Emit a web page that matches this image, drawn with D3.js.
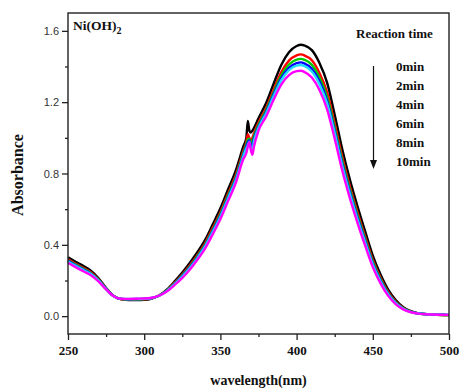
<!DOCTYPE html>
<html>
<head>
<meta charset="utf-8">
<script src="https://cdn.jsdelivr.net/npm/d3@7"></script>
<style>
  html, body { margin: 0; padding: 0; background: #fff; }
  svg { display: block; }
</style>
</head>
<body>
<div id="chart"></div>
<script>
// UV-vis spectra of Ni(OH)2 over reaction time
var wavelengths = [250, 255, 260, 265, 270, 275, 280, 285, 290, 295, 300, 305, 310, 315, 320, 325, 330, 335, 340, 345,
  350, 355, 360, 365, 367, 368, 369, 370, 371, 372, 375, 380, 385, 390, 395, 400, 403, 405, 410, 415,
  420, 425, 430, 435, 440, 445, 450, 455, 460, 465, 470, 475, 480, 490, 500];

var abs0 = [0.330, 0.305, 0.282, 0.255, 0.213, 0.158, 0.113, 0.094, 0.091, 0.091, 0.092, 0.099, 0.117, 0.150, 0.195, 0.245, 0.300, 0.360, 0.428, 0.515,
  0.605, 0.710, 0.815, 0.950, 1.000, 1.095, 1.040, 1.030, 1.040, 1.055, 1.110, 1.195, 1.305, 1.410, 1.480, 1.515, 1.522, 1.518, 1.492, 1.420,
  1.310, 1.130, 0.935, 0.765, 0.615, 0.475, 0.340, 0.235, 0.150, 0.090, 0.050, 0.028, 0.016, 0.009, 0.006];
var abs2 = [0.319, 0.294, 0.271, 0.246, 0.206, 0.155, 0.113, 0.095, 0.093, 0.094, 0.095, 0.100, 0.117, 0.146, 0.188, 0.234, 0.286, 0.344, 0.410, 0.495,
  0.583, 0.686, 0.789, 0.924, 0.975, 1.020, 1.000, 0.985, 1.000, 1.025, 1.085, 1.167, 1.272, 1.369, 1.433, 1.463, 1.468, 1.463, 1.435, 1.364,
  1.255, 1.080, 0.891, 0.726, 0.581, 0.445, 0.316, 0.217, 0.137, 0.082, 0.046, 0.026, 0.015, 0.009, 0.006];
var abs4 = [0.314, 0.289, 0.266, 0.241, 0.203, 0.154, 0.113, 0.096, 0.094, 0.095, 0.096, 0.101, 0.116, 0.145, 0.184, 0.229, 0.279, 0.337, 0.402, 0.485,
  0.573, 0.675, 0.777, 0.912, 0.962, 0.990, 0.995, 0.965, 0.980, 1.010, 1.072, 1.155, 1.256, 1.351, 1.411, 1.439, 1.443, 1.438, 1.409, 1.338,
  1.229, 1.057, 0.870, 0.708, 0.565, 0.432, 0.305, 0.208, 0.131, 0.078, 0.044, 0.025, 0.015, 0.009, 0.006];
var abs6 = [0.310, 0.285, 0.262, 0.238, 0.201, 0.153, 0.112, 0.097, 0.095, 0.096, 0.097, 0.102, 0.116, 0.143, 0.181, 0.225, 0.274, 0.331, 0.395, 0.478,
  0.564, 0.666, 0.767, 0.902, 0.950, 0.975, 0.985, 0.950, 0.960, 0.995, 1.062, 1.144, 1.244, 1.335, 1.393, 1.419, 1.423, 1.417, 1.387, 1.317,
  1.208, 1.038, 0.853, 0.694, 0.552, 0.421, 0.296, 0.201, 0.126, 0.075, 0.042, 0.024, 0.015, 0.009, 0.007];
var abs8 = [0.307, 0.282, 0.259, 0.236, 0.199, 0.152, 0.112, 0.097, 0.096, 0.096, 0.097, 0.102, 0.116, 0.142, 0.179, 0.222, 0.270, 0.327, 0.391, 0.472,
  0.558, 0.659, 0.760, 0.895, 0.940, 0.960, 0.978, 0.940, 0.935, 0.980, 1.055, 1.137, 1.235, 1.324, 1.380, 1.405, 1.408, 1.403, 1.372, 1.301,
  1.193, 1.025, 0.841, 0.683, 0.542, 0.413, 0.289, 0.196, 0.123, 0.073, 0.041, 0.023, 0.015, 0.009, 0.007];
var abs10 = [0.300, 0.275, 0.252, 0.230, 0.195, 0.150, 0.112, 0.098, 0.097, 0.098, 0.099, 0.103, 0.116, 0.140, 0.175, 0.215, 0.262, 0.318, 0.380, 0.460,
  0.545, 0.645, 0.745, 0.880, 0.915, 0.950, 0.975, 0.930, 0.905, 0.950, 1.040, 1.120, 1.215, 1.300, 1.352, 1.374, 1.376, 1.370, 1.338, 1.268,
  1.160, 0.995, 0.815, 0.660, 0.522, 0.395, 0.275, 0.185, 0.115, 0.068, 0.038, 0.022, 0.014, 0.009, 0.007];

var seriesNames = ["0min", "2min", "4min", "6min", "8min", "10min"];
var seriesValues = [abs0, abs2, abs4, abs6, abs8, abs10];
var seriesColors = ["#000000", "#ff0000", "#00cc00", "#0000ff", "#22dcff", "#ff00ff"];

var xTicks = [250, 300, 350, 400, 450, 500];
var xMinor = [275, 325, 375, 425, 475];
var yTicks = [0.0, 0.4, 0.8, 1.2, 1.6];
var yMinor = [0.2, 0.6, 1.0, 1.4];

(function () {
  "use strict";
  var W = 461, H = 392, m = { t: 13, r: 12, b: 58, l: 68 };
  var iw = W - m.l - m.r, ih = H - m.t - m.b;
  var SERIF = "'Liberation Serif', 'Times New Roman', serif";
  var SANS = "'Liberation Sans', Arial, sans-serif";

  var x = d3.scaleLinear().domain([250, 500]).range([0, iw]);
  var y = d3.scaleLinear().domain([-0.1, 1.7]).range([ih, 0]);

  var svg = d3.select("#chart").append("svg").attr("width", W).attr("height", H);
  var g = svg.append("g").attr("transform", "translate(" + m.l + "," + m.t + ")");

  // spectra (0min drawn first, 10min last -> on top)
  var line = d3.line().x(function (d) { return x(d[0]); }).y(function (d) { return y(d[1]); }).curve(d3.curveMonotoneX);
  seriesValues.forEach(function (vals, i) {
    var pts = wavelengths.map(function (w, k) { return [w, vals[k]]; });
    g.append("path").attr("d", line(pts)).attr("fill", "none")
      .attr("stroke", seriesColors[i]).attr("stroke-width", 2.4).attr("stroke-linejoin", "round");
  });

  // frame
  g.append("rect").attr("x", 0).attr("y", 0).attr("width", iw).attr("height", ih)
    .attr("fill", "none").attr("stroke", "#222").attr("stroke-width", 1.4);

  // x axis (ticks outward, bold serif labels)
  var xAxis = d3.axisBottom(x).tickValues(xTicks).tickSize(6).tickPadding(6).tickFormat(d3.format("d"));
  var xa = g.append("g").attr("transform", "translate(0," + ih + ")").call(xAxis);
  xa.select(".domain").remove();
  xa.selectAll("line").attr("stroke", "#222").attr("stroke-width", 1.3);
  xa.selectAll("text").attr("font-family", SERIF).attr("font-weight", "bold").attr("font-size", 13).attr("fill", "#111");
  var xm = g.append("g").attr("transform", "translate(0," + ih + ")")
    .call(d3.axisBottom(x).tickValues(xMinor).tickSize(3).tickFormat(""));
  xm.select(".domain").remove();
  xm.selectAll("line").attr("stroke", "#222").attr("stroke-width", 1.3);

  // y axis (ticks outward, plain sans labels)
  var yAxis = d3.axisLeft(y).tickValues(yTicks).tickSize(6).tickPadding(3).tickFormat(d3.format(".1f"));
  var ya = g.append("g").call(yAxis);
  ya.select(".domain").remove();
  ya.selectAll("line").attr("stroke", "#222").attr("stroke-width", 1.3);
  ya.selectAll("text").attr("font-family", SANS).attr("font-size", 11).attr("fill", "#333");
  var ym = g.append("g").call(d3.axisLeft(y).tickValues(yMinor).tickSize(3).tickFormat(""));
  ym.select(".domain").remove();
  ym.selectAll("line").attr("stroke", "#222").attr("stroke-width", 1.3);

  // axis titles
  svg.append("text").attr("x", m.l + iw / 2).attr("y", 385).attr("text-anchor", "middle")
    .attr("font-family", SERIF).attr("font-weight", "bold").attr("font-size", 14).attr("fill", "#111").text("wavelength(nm)");
  svg.append("text").attr("transform", "translate(23,175) rotate(-90)").attr("text-anchor", "middle")
    .attr("font-family", SERIF).attr("font-weight", "bold").attr("font-size", 16).attr("fill", "#111").text("Absorbance");

  // sample label
  var lab = svg.append("text").attr("x", 73).attr("y", 30)
    .attr("font-family", SERIF).attr("font-weight", "bold").attr("font-size", 13.5).attr("fill", "#111");
  lab.append("tspan").text("Ni(OH)");
  lab.append("tspan").attr("dy", 4).attr("font-size", 10).text("2");

  // legend: reaction time with downward arrow
  svg.append("text").attr("x", 356).attr("y", 38)
    .attr("font-family", SERIF).attr("font-weight", "bold").attr("font-size", 13).attr("fill", "#111").text("Reaction time");
  seriesNames.forEach(function (s, i) {
    svg.append("text").attr("x", 396).attr("y", 71 + i * 19)
      .attr("font-family", SERIF).attr("font-weight", "bold").attr("font-size", 13).attr("fill", "#111").text(s);
  });
  svg.append("line").attr("x1", 373.5).attr("x2", 373.5).attr("y1", 66).attr("y2", 162)
    .attr("stroke", "#111").attr("stroke-width", 1.2);
  svg.append("path").attr("d", "M370,160 L377,160 L373.5,169 Z").attr("fill", "#111");
})();
</script>
</body>
</html>
